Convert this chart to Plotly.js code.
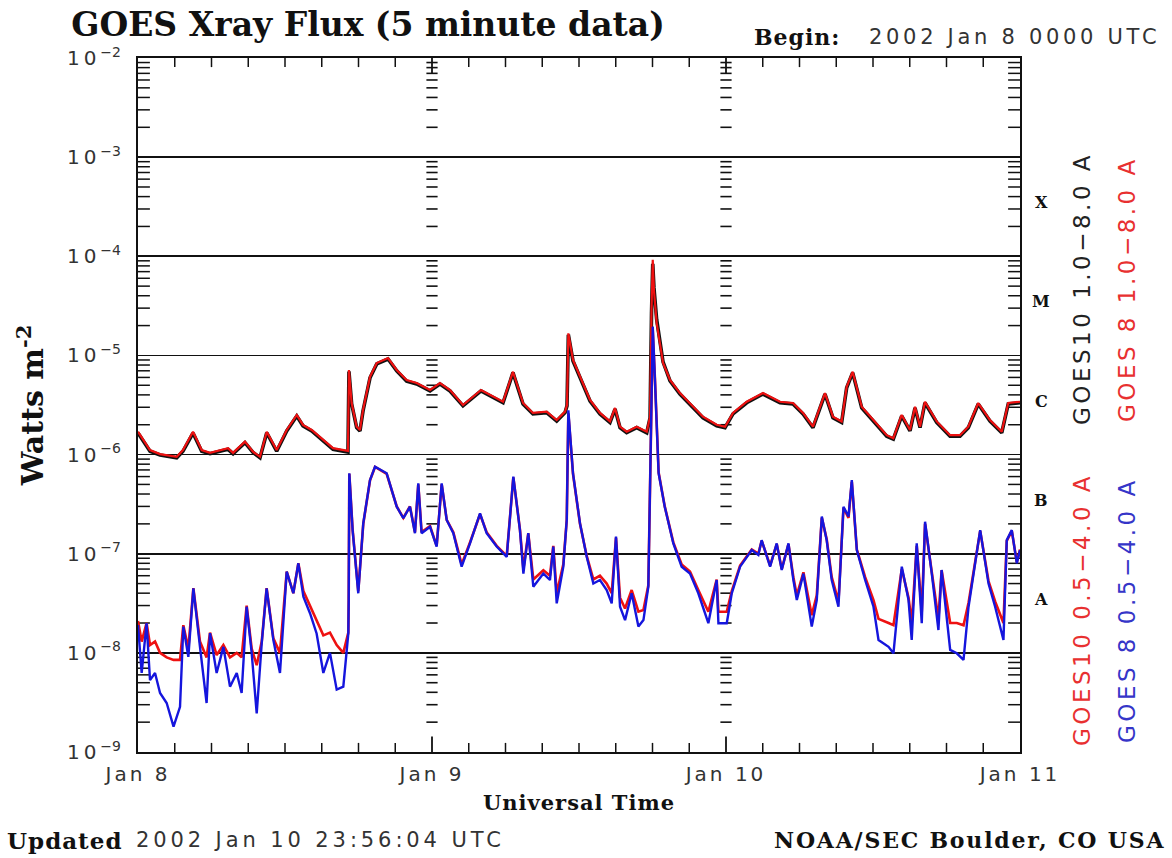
<!DOCTYPE html>
<html><head><meta charset="utf-8">
<script src="https://cdn.plot.ly/plotly-3.0.1.min.js"></script>
<style>html,body{margin:0;padding:0;background:#fff}#chart{width:1172px;height:858px}</style>
</head><body><div id="chart"></div>
<script>
// ---- axis categories / labels ----
const dayHours = [0, 24, 48, 72];
const dayLabels = ['Jan 8', 'Jan 9', 'Jan 10', 'Jan 11'];
const decadeValues = [1e-9, 1e-8, 1e-7, 1e-6, 1e-5, 1e-4, 1e-3, 1e-2];
const decadeExponents = ['−9', '−8', '−7', '−6', '−5', '−4', '−3', '−2'];
const classLetters = ['X', 'M', 'C', 'B', 'A'];
const classLogLevels = [-3.5, -4.5, -5.5, -6.5, -7.5];
const dayLineHours = [24, 48];

// ---- long channel (1.0-8.0 A), hours since 2002 Jan 8 00 UTC ----
const hoursLong = [
  0, 0.98, 1.80, 3.16, 3.67, 4.49, 5.20, 5.88, 7.35, 7.76,
  8.73, 9.39, 9.96, 10.51, 11.32, 12.14, 12.96, 13.47, 14.18, 15.10,
  15.92, 17.14, 17.22, 17.44, 17.85, 18.12, 18.37, 18.94, 19.49, 20.41,
  21.12, 21.93, 22.75, 23.84, 24.65, 25.47, 26.53, 28.0, 28.73, 29.8,
  30.61, 31.43, 32.24, 33.36, 34.18, 34.86, 35.02, 35.13, 35.51, 36.08,
  36.90, 37.71, 38.53, 38.94, 39.35, 39.89, 40.71, 41.53, 41.80, 41.92,
  42.02, 42.12, 42.34, 42.86, 43.43, 44.24, 45.30, 46.12, 47.24, 47.92,
  48.57, 49.69, 51.02, 52.41, 53.47, 54.29, 55.10, 56.08, 56.73, 57.44,
  57.85, 58.34, 59.08, 60.02, 61.12, 61.66, 62.34, 63.02, 63.43, 63.84,
  64.24, 65.20, 66.29, 67.10, 67.78, 68.59, 69.55, 70.51, 71.04, 72
];
const goes8Long = [
  1.70e-6, 1.11e-6, 1.01e-6, 9.5e-7, 1.11e-6, 1.70e-6, 1.11e-6, 1.04e-6, 1.16e-6, 1.04e-6,
  1.35e-6, 1.07e-6, 9.5e-7, 1.70e-6, 1.11e-6, 1.77e-6, 2.51e-6, 1.99e-6, 1.77e-6, 1.40e-6,
  1.16e-6, 1.09e-6, 7.13e-6, 3.31e-6, 1.91e-6, 1.77e-6, 2.82e-6, 6.10e-6, 8.39e-6, 9.42e-6,
  7.13e-6, 5.65e-6, 5.27e-6, 4.48e-6, 5.27e-6, 4.48e-6, 3.16e-6, 4.48e-6, 3.99e-6, 3.41e-6,
  6.85e-6, 3.31e-6, 2.63e-6, 2.71e-6, 2.23e-6, 2.71e-6, 3.16e-6, 1.67e-5, 9.0e-6, 6.10e-6,
  3.55e-6, 2.63e-6, 2.16e-6, 2.95e-6, 1.91e-6, 1.70e-6, 1.91e-6, 1.70e-6, 2.41e-6, 3.0e-5,
  9.2e-5, 4.5e-5, 2.12e-5, 8.39e-6, 5.65e-6, 4.17e-6, 3.03e-6, 2.41e-6, 2.0e-6, 1.91e-6,
  2.63e-6, 3.41e-6, 4.17e-6, 3.41e-6, 3.31e-6, 2.63e-6, 1.91e-6, 4.17e-6, 2.41e-6, 2.16e-6,
  4.83e-6, 6.85e-6, 3.03e-6, 2.23e-6, 1.57e-6, 1.46e-6, 2.51e-6, 1.77e-6, 3.03e-6, 1.91e-6,
  3.41e-6, 2.16e-6, 1.57e-6, 1.57e-6, 1.91e-6, 3.31e-6, 2.23e-6, 1.70e-6, 3.31e-6, 3.41e-6
];
const goes10Long = [
  1.65e-6, 1.08e-6, 9.9e-7, 9.3e-7, 1.08e-6, 1.65e-6, 1.08e-6, 1.02e-6, 1.13e-6, 1.02e-6,
  1.32e-6, 1.05e-6, 9.3e-7, 1.66e-6, 1.08e-6, 1.73e-6, 2.45e-6, 1.95e-6, 1.73e-6, 1.37e-6,
  1.13e-6, 1.06e-6, 6.9e-6, 3.25e-6, 1.87e-6, 1.73e-6, 2.76e-6, 5.95e-6, 8.2e-6, 9.2e-6,
  7.0e-6, 5.5e-6, 5.15e-6, 4.38e-6, 5.15e-6, 4.38e-6, 3.10e-6, 4.38e-6, 3.90e-6, 3.33e-6,
  6.7e-6, 3.24e-6, 2.57e-6, 2.65e-6, 2.18e-6, 2.65e-6, 3.10e-6, 1.62e-5, 8.8e-6, 5.95e-6,
  3.47e-6, 2.57e-6, 2.11e-6, 2.88e-6, 1.87e-6, 1.66e-6, 1.87e-6, 1.66e-6, 2.35e-6, 2.7e-5,
  8.4e-5, 4.8e-5, 2.3e-5, 8.6e-6, 5.55e-6, 4.08e-6, 2.96e-6, 2.35e-6, 1.95e-6, 1.87e-6,
  2.57e-6, 3.33e-6, 4.08e-6, 3.33e-6, 3.24e-6, 2.57e-6, 1.87e-6, 4.08e-6, 2.35e-6, 2.11e-6,
  4.72e-6, 6.7e-6, 2.96e-6, 2.18e-6, 1.53e-6, 1.43e-6, 2.45e-6, 1.73e-6, 2.96e-6, 1.87e-6,
  3.33e-6, 2.11e-6, 1.53e-6, 1.53e-6, 1.87e-6, 3.24e-6, 2.18e-6, 1.66e-6, 3.24e-6, 3.33e-6
];

// ---- short channel (0.5-4.0 A) ----
const hoursShort = [
  0.0, 0.3, 0.7, 0.98, 1.39, 1.80, 2.34, 2.9, 3.43, 3.70,
  4.11, 4.52, 5.06, 5.60, 5.88, 6.42, 6.97, 7.51, 8.06, 8.46,
  8.87, 9.28, 9.69, 10.1, 10.5, 11.05, 11.59, 12.14, 12.68, 13.09,
  13.5, 14.04, 14.58, 15.13, 15.67, 16.22, 16.76, 17.17, 17.2, 17.25,
  17.52, 17.98, 18.39, 18.94, 19.35, 20.3, 21.12, 21.66, 22.2, 22.61,
  22.88, 23.15, 23.84, 24.38, 24.79, 25.2, 25.74, 26.42, 27.1, 27.92,
  28.46, 29.28, 30.1, 30.64, 31.18, 31.46, 31.86, 32.27, 33.09, 33.63,
  33.9, 34.18, 34.72, 35.0, 35.13, 35.51, 36.08, 36.63, 37.17, 37.71,
  38.26, 38.67, 39.02, 39.35, 39.76, 40.3, 40.85, 41.26, 41.66, 41.85,
  42.02, 42.2, 42.5, 43.0, 43.7, 44.38, 45.06, 45.74, 46.56, 47.24,
  47.38, 48.06, 48.47, 49.15, 50.1, 50.64, 50.91, 51.6, 52.14, 52.55,
  53.1, 53.5, 53.78, 54.32, 55.0, 55.41, 55.82, 56.22, 56.63, 57.18,
  57.59, 58.0, 58.27, 58.68, 59.36, 60.04, 60.45, 61.27, 61.67, 62.35,
  62.9, 63.16, 63.57, 63.98, 64.25, 64.8, 65.34, 65.6, 66.3, 66.84,
  67.39, 67.8, 68.34, 68.75, 69.43, 69.97, 70.65, 70.92, 71.33, 71.74,
  72.0
];
const goes8Short = [
  1.91e-8, 6.27e-9, 2.0e-8, 5.3e-9, 6.27e-9, 3.94e-9, 3.12e-9, 1.80e-9, 2.86e-9, 1.84e-8,
  9.1e-9, 4.48e-8, 1.15e-8, 3.12e-9, 1.58e-8, 6.27e-9, 1.15e-8, 4.56e-9, 6.27e-9, 3.94e-9,
  2.92e-8, 1.0e-8, 2.45e-9, 1.25e-8, 4.48e-8, 1.35e-8, 6.27e-9, 6.6e-8, 3.99e-8, 8.0e-8,
  3.69e-8, 2.51e-8, 1.57e-8, 6.27e-9, 1.0e-8, 4.26e-9, 4.56e-9, 1.57e-8, 3.4e-8, 6.47e-7,
  1.73e-7, 3.99e-8, 2.03e-7, 5.53e-7, 7.55e-7, 6.47e-7, 2.98e-7, 2.28e-7, 2.98e-7, 1.61e-7,
  5.13e-7, 1.61e-7, 1.87e-7, 1.18e-7, 5.13e-7, 2.19e-7, 1.61e-7, 7.4e-8, 1.27e-7, 2.55e-7,
  1.61e-7, 1.18e-7, 9.3e-8, 5.98e-7, 1.73e-7, 6.3e-8, 1.61e-7, 4.65e-8, 6.3e-8, 5.43e-8,
  1.18e-7, 3.16e-8, 7.4e-8, 2.19e-7, 2.8e-6, 6.47e-7, 2.03e-7, 9.3e-8, 5.0e-8, 5.43e-8,
  4.3e-8, 3.16e-8, 1.49e-7, 2.92e-8, 2.14e-8, 3.99e-8, 1.84e-8, 2.14e-8, 4.65e-8, 1.4e-6,
  1.95e-5, 5.65e-6, 6.47e-7, 2.98e-7, 1.27e-7, 7.4e-8, 6.3e-8, 3.99e-8, 1.99e-8, 5.43e-8,
  1.99e-8, 1.99e-8, 3.99e-8, 7.4e-8, 1.09e-7, 9.7e-8, 1.37e-7, 7.4e-8, 1.27e-7, 6.86e-8,
  1.27e-7, 5.43e-8, 3.41e-8, 6.3e-8, 1.84e-8, 3.41e-8, 2.37e-7, 1.37e-7, 5.43e-8, 2.92e-8,
  2.98e-7, 2.37e-7, 5.53e-7, 1.09e-7, 5.43e-8, 2.92e-8, 1.35e-8, 1.15e-8, 9.9e-9, 7.4e-8,
  3.41e-8, 1.35e-8, 1.27e-7, 1.99e-8, 2.1e-7, 6.3e-8, 1.70e-8, 6.86e-8, 1.07e-8, 9.9e-9,
  8.5e-9, 2.92e-8, 8.0e-8, 1.73e-7, 5.0e-8, 2.92e-8, 1.35e-8, 1.37e-7, 1.73e-7, 8.0e-8,
  1.09e-7
];
const goes10Short = [
  2.1e-8, 1.3e-8, 2.0e-8, 1.2e-8, 1.3e-8, 1.0e-8, 9.0e-9, 8.5e-9, 8.5e-9, 1.9e-8,
  1.1e-8, 4.5e-8, 1.3e-8, 9.0e-9, 1.6e-8, 9.5e-9, 1.2e-8, 9.0e-9, 1.0e-8, 9.0e-9,
  3.0e-8, 1.1e-8, 7.5e-9, 1.3e-8, 4.5e-8, 1.4e-8, 1.0e-8, 6.6e-8, 4.0e-8, 8.0e-8,
  4.2e-8, 3.0e-8, 2.2e-8, 1.5e-8, 1.6e-8, 1.2e-8, 1.0e-8, 1.6e-8, 3.4e-8, 6.4e-7,
  1.75e-7, 4.2e-8, 2.0e-7, 5.5e-7, 7.5e-7, 6.4e-7, 3.0e-7, 2.3e-7, 3.0e-7, 1.65e-7,
  5.0e-7, 1.65e-7, 1.9e-7, 1.2e-7, 5.0e-7, 2.2e-7, 1.65e-7, 7.8e-8, 1.3e-7, 2.5e-7,
  1.65e-7, 1.2e-7, 9.5e-8, 5.9e-7, 1.75e-7, 7.0e-8, 1.6e-7, 5.5e-8, 6.8e-8, 6.0e-8,
  1.2e-7, 4.0e-8, 7.8e-8, 2.2e-7, 2.6e-6, 6.4e-7, 2.0e-7, 9.5e-8, 5.5e-8, 6.0e-8,
  5.0e-8, 4.0e-8, 1.45e-7, 3.6e-8, 2.8e-8, 4.3e-8, 2.6e-8, 2.7e-8, 4.8e-8, 1.3e-6,
  1.8e-5, 5.8e-6, 6.6e-7, 3.0e-7, 1.3e-7, 7.8e-8, 6.6e-8, 4.3e-8, 2.6e-8, 5.5e-8,
  2.6e-8, 2.6e-8, 4.2e-8, 7.6e-8, 1.1e-7, 1.0e-7, 1.35e-7, 7.6e-8, 1.25e-7, 7.0e-8,
  1.25e-7, 5.8e-8, 3.8e-8, 6.5e-8, 2.4e-8, 3.8e-8, 2.3e-7, 1.4e-7, 5.8e-8, 3.3e-8,
  2.9e-7, 2.3e-7, 5.3e-7, 1.1e-7, 5.8e-8, 3.4e-8, 2.2e-8, 2.0e-8, 1.9e-8, 7.0e-8,
  3.6e-8, 2.0e-8, 1.2e-7, 2.6e-8, 2.0e-7, 6.5e-8, 2.2e-8, 6.8e-8, 2.0e-8, 2.0e-8,
  1.9e-8, 3.2e-8, 8.0e-8, 1.7e-7, 5.3e-8, 3.3e-8, 2.0e-8, 1.35e-7, 1.7e-7, 8.2e-8,
  1.1e-7
];

const BLACK = '#111111', RED = '#ee1111', BLUE = '#1515dd';
const SANS = 'DejaVu Sans', SERIF = 'DejaVu Serif';
function spaced(t, px) { return '<span style="letter-spacing:' + px + 'px">' + t + '</span>'; }

// ---- axis decoration derived from the scales (minor log positions, 3-hour positions) ----
const yRange = [1e-9, 1e-2], xRange = [0, 72];
const minorLogTicks = [];
for (let k = -9; k < -2; k++) for (let m = 2; m <= 9; m++) minorLogTicks.push(m * Math.pow(10, k));
const threeHourTicks = [];
for (let h = 3; h < 72; h += 3) if (h % 24 !== 0) threeHourTicks.push(h);

function tickCloud(xs, ys) {
  const X = [], Y = [];
  for (const x of xs) for (const y of ys) { X.push(x); Y.push(y); }
  return {X, Y};
}
const sideTicks = tickCloud(xRange, minorLogTicks);          // left & right frame (half clipped -> inside)
const dayLineTicks = tickCloud(dayLineHours, minorLogTicks);  // dashed ticks on day boundaries
const edgeMinorTicks = tickCloud(threeHourTicks, yRange);     // bottom & top frame
const edgeDayTicks = tickCloud(dayLineHours, yRange);

function tickTrace(c, symbol, size, width) {
  return {x: c.X, y: c.Y, type: 'scatter', mode: 'markers', hoverinfo: 'skip', cliponaxis: true,
          marker: {symbol: symbol, size: size, line: {width: width, color: BLACK}}};
}

const traces = [
  tickTrace(sideTicks, 'line-ew', 17, 1.5),
  tickTrace(dayLineTicks, 'line-ew', 8, 1.6),
  tickTrace(edgeMinorTicks, 'line-ns', 13, 1.5),
  tickTrace(edgeDayTicks, 'line-ns', 22, 1.8),
  {x: hoursLong, y: goes10Long, type: 'scatter', mode: 'lines', name: 'GOES10 1.0-8.0 A',
   line: {color: BLACK, width: 3.6}},
  {x: hoursLong, y: goes8Long, type: 'scatter', mode: 'lines', name: 'GOES 8 1.0-8.0 A',
   line: {color: RED, width: 2.2}},
  {x: hoursShort, y: goes10Short, type: 'scatter', mode: 'lines', name: 'GOES10 0.5-4.0 A',
   line: {color: RED, width: 2.6}},
  {x: hoursShort, y: goes8Short, type: 'scatter', mode: 'lines', name: 'GOES 8 0.5-4.0 A',
   line: {color: BLUE, width: 2.4}}
];

function px2paperX(px) { return (px - 138) / 882; }
function px2paperY(py) { return (752 - py) / 694; }

const annotations = [];
classLetters.forEach((c, i) => annotations.push({
  text: '<b>' + c + '</b>', xref: 'paper', yref: 'y', x: px2paperX(1041), y: classLogLevels[i],
  yshift: 4, showarrow: false, xanchor: 'center', yanchor: 'middle',
  font: {family: SERIF, size: 16, color: BLACK}
}));
const sideLabels = [
  {text: 'GOES10 1.0−8.0 A', x: 1082, y: 289, color: '#222'},
  {text: 'GOES 8 1.0−8.0 A', x: 1127, y: 289, color: '#e83030'},
  {text: 'GOES10 0.5−4.0 A', x: 1082, y: 610, color: '#e83030'},
  {text: 'GOES 8 0.5−4.0 A', x: 1127, y: 610, color: '#3535c8'}
];
sideLabels.forEach(s => annotations.push({
  text: spaced(s.text, 3.5), xref: 'paper', yref: 'paper', x: px2paperX(s.x), y: px2paperY(s.y),
  textangle: -90, showarrow: false, xanchor: 'center', yanchor: 'middle',
  font: {family: SANS, size: 23, color: s.color}
}));
annotations.push(
  {text: '<b>' + spaced('Begin:', 1) + '</b>', xref: 'paper', yref: 'paper', x: px2paperX(752), y: px2paperY(37),
   showarrow: false, xanchor: 'left', yanchor: 'middle', font: {family: SERIF, size: 22, color: BLACK}},
  {text: spaced('2002 Jan 8 0000 UTC', 3.7), xref: 'paper', yref: 'paper', x: px2paperX(867), y: px2paperY(37),
   showarrow: false, xanchor: 'left', yanchor: 'middle', font: {family: SANS, size: 21, color: '#333'}},
  {text: '<b>' + spaced('Updated', 1) + '</b>', xref: 'paper', yref: 'paper', x: px2paperX(5), y: px2paperY(840),
   showarrow: false, xanchor: 'left', yanchor: 'middle', font: {family: SERIF, size: 23, color: BLACK}},
  {text: spaced('2002 Jan 10 23:56:04 UTC', 3.9), xref: 'paper', yref: 'paper', x: px2paperX(134), y: px2paperY(840),
   showarrow: false, xanchor: 'left', yanchor: 'middle', font: {family: SANS, size: 21, color: '#333'}},
  {text: '<b>' + spaced('NOAA/SEC Boulder, CO USA', 1.8) + '</b>', xref: 'paper', yref: 'paper', x: px2paperX(1167), y: px2paperY(840),
   showarrow: false, xanchor: 'right', yanchor: 'middle', font: {family: SERIF, size: 22, color: BLACK}}
);

const layout = {
  width: 1172, height: 858,
  margin: {l: 138, r: 152, t: 58, b: 106},
  paper_bgcolor: '#ffffff', plot_bgcolor: '#ffffff',
  showlegend: false,
  title: {text: '<b>GOES Xray Flux (5 minute data)</b>', xref: 'container', yref: 'container',
          x: 0.314, xanchor: 'center', y: 0.972, yanchor: 'middle',
          font: {family: SERIF, size: 33, color: BLACK}},
  xaxis: {
    range: xRange, tickmode: 'array', tickvals: dayHours, ticktext: dayLabels.map(t => spaced(t, 3)),
    ticks: '', showline: true, linecolor: BLACK, linewidth: 2, mirror: true,
    showgrid: false, zeroline: false, ticklabelstandoff: 3,
    tickfont: {family: SANS, size: 20, color: '#333'},
    title: {text: '<b>' + spaced('Universal Time', 1) + '</b>', font: {family: SERIF, size: 21, color: BLACK}, standoff: 10}
  },
  yaxis: {
    type: 'log', range: [-9, -2], tickmode: 'array', tickvals: decadeValues,
    ticktext: decadeExponents.map(e => spaced('10', 4) + '<sup>' + e + '</sup>'),
    ticks: '', showline: true, linecolor: BLACK, linewidth: 2, mirror: true,
    showgrid: true, gridcolor: BLACK, gridwidth: 1.6, zeroline: false, ticklabelstandoff: 11,
    tickfont: {family: SANS, size: 20, color: '#333'},
    title: {text: '<b>Watts m<sup>-2</sup></b>', font: {family: SERIF, size: 30, color: BLACK}, standoff: 14}
  },
  annotations: annotations
};

Plotly.newPlot('chart', traces, layout, {displayModeBar: false, staticPlot: true});
</script>
</body></html>
